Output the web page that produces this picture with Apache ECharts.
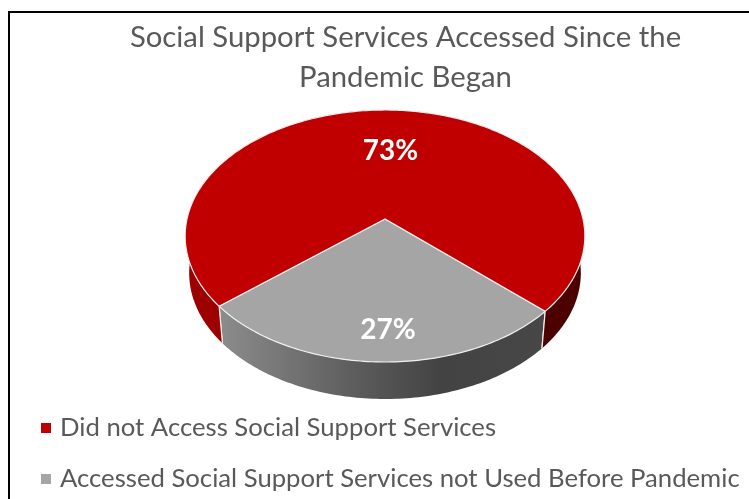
<!DOCTYPE html>
<html>
<head>
<meta charset="utf-8">
<style>html,body{margin:0;padding:0;background:#fff}#chart{width:749px;height:499px}</style>
<script src="https://cdn.jsdelivr.net/npm/echarts@6/dist/echarts.min.js"></script>
</head>
<body>
<div id="chart"></div>
<script>
// Survey shares and their legend names
const categories = ['Did not Access Social Support Services', 'Accessed Social Support Services not Used Before Pandemic'];
const shares = [73, 27];
const titleLines = ['Social Support Services Accessed Since the', 'Pandemic Began'];

const topColors = ['#c00000', '#a5a5a5'];
const labelReach = [0.6, 0.8];
const labelNudgeX = [3, 7];
const firstSliceDeg = 229.9;

// Tilted disc: a unit circle seen through a simple perspective projection
const disc = { cx: 385, apexY: 219, a: 198, b: 123.7, k: 0.135 };
const wall = { drop: 37, shrinkX: 0.98 };

function project(x, y, floor) {
  const w = 1 - disc.k * y;
  const s = floor ? wall.shrinkX : 1;
  return [
    disc.cx + s * disc.a * x / w,
    disc.apexY + (floor ? wall.drop : 0) + disc.b * y / w
  ];
}
function onCircle(deg, r, floor) {
  const t = deg * Math.PI / 180;
  return project(r * Math.sin(t), -r * Math.cos(t), floor);
}
function arc(from, to, floor) {
  const pts = [];
  const n = Math.max(8, Math.ceil(Math.abs(to - from)));
  for (let i = 0; i <= n; i++) pts.push(onCircle(from + (to - from) * i / n, 1, floor));
  return pts;
}
function hGradient(stops) {
  return { type: 'linear', x: 0, y: 0, x2: 1, y2: 0, colorStops: stops.map(s => ({ offset: s[0], color: s[1] })) };
}
const wallFills = [
  hGradient([[0, '#9c0000'], [0.5, '#9c0000'], [0.5, '#4c0000'], [1, '#4c0000']]),
  hGradient([[0, '#8c8c8c'], [0.45, '#595959'], [0.68, '#434343'], [1, '#474747']])
];

const total = shares.reduce((a, b) => a + b, 0);

function sliceRenderer(index) {
  return function (params, api) {
    const before = shares.slice(0, index).reduce((a, b) => a + b, 0);
    const start = firstSliceDeg + before / total * 360;
    const sweep = api.value(0) / total * 360;
    const end = start + sweep;
    const rim = arc(start, end, false);
    const base = arc(start, end, true);
    const mid = onCircle(start + sweep / 2, labelReach[index], false);
    const edge = { stroke: '#efefef', lineWidth: 1.2 };
    return {
      type: 'group',
      children: [
        {
          type: 'polygon', z2: 1,
          shape: { points: rim.concat(base.slice().reverse()) },
          style: { fill: wallFills[index], stroke: null }
        },
        {
          type: 'polyline', z2: 2,
          shape: { points: [rim[0], base[0]] },
          style: Object.assign({ fill: null }, edge)
        },
        {
          type: 'polyline', z2: 2,
          shape: { points: [rim[rim.length - 1], base[base.length - 1]] },
          style: Object.assign({ fill: null }, edge)
        },
        {
          type: 'polygon', z2: 3,
          shape: { points: [project(0, 0, false)].concat(rim) },
          style: Object.assign({ fill: topColors[index] }, edge)
        },
        {
          type: 'text', z2: 4,
          x: mid[0] + labelNudgeX[index], y: mid[1] + 0.5,
          style: {
            text: api.value(0) + '%',
            fill: '#ffffff',
            font: 'bold 28px Lato',
            align: 'center',
            verticalAlign: 'middle'
          }
        }
      ]
    };
  };
}

const chart = echarts.init(document.getElementById('chart'), null, { renderer: 'canvas' });
chart.setOption({
  backgroundColor: '#ffffff',
  animation: false,
  color: topColors,
  title: {
    text: titleLines.join('\n'),
    left: 400.5,
    top: 13,
    textAlign: 'center',
    textStyle: { fontFamily: 'Lato', fontSize: 29.3, fontWeight: 'normal', color: '#595959', lineHeight: 40 }
  },
  legend: {
    orient: 'vertical',
    left: 41,
    top: 413,
    padding: 0,
    icon: 'rect',
    itemWidth: 10,
    itemHeight: 10,
    itemGap: 21,
    data: categories,
    textStyle: { fontFamily: 'Lato', fontSize: 25.7, color: '#595959', lineHeight: 30, padding: [0, 0, 0, 4] }
  },
  graphic: [{
    type: 'polyline',
    silent: true,
    shape: { points: [[9, 499], [9, 12], [749, 12]] },
    style: { stroke: '#000000', lineWidth: 2, fill: null }
  }],
  series: categories.map((name, i) => ({
    type: 'custom',
    name: name,
    coordinateSystem: 'none',
    renderItem: sliceRenderer(i),
    data: [[shares[i]]],
    z: 2 + (1 - i),
    silent: true
  }))
});
</script>
</body>
</html>
